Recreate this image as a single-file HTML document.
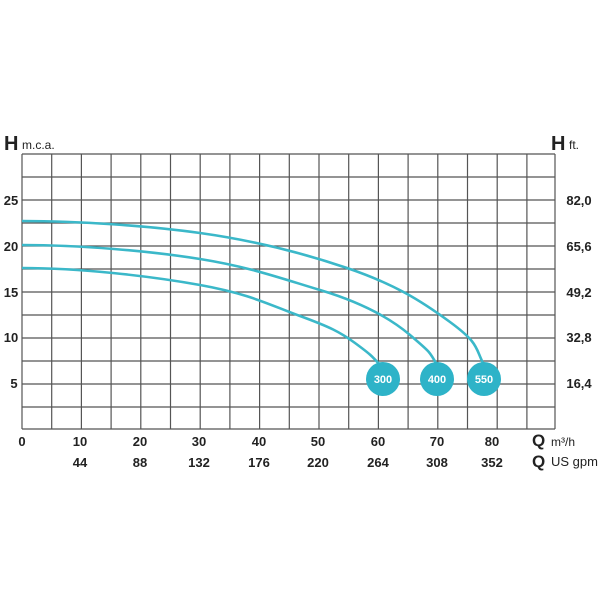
<!DOCTYPE html>
<html><head><style>
body{margin:0;background:#fff;}
svg text{font-family:"Liberation Sans",sans-serif;}
</style></head><body>
<svg width="603" height="603" xmlns="http://www.w3.org/2000/svg">
<g stroke="#555" stroke-width="1.2" fill="none">
<path d="M22,154V429M51.7,154V429M81.4,154V429M111.1,154V429M140.8,154V429M170.5,154V429M200.2,154V429M229.9,154V429M259.6,154V429M289.3,154V429M319,154V429M348.7,154V429M378.4,154V429M408.1,154V429M437.8,154V429M467.5,154V429M497.2,154V429M526.9,154V429M555,154V429"/>
<path d="M22,154H555M22,177H555M22,200H555M22,223H555M22,246H555M22,269H555M22,292H555M22,315H555M22,338H555M22,361H555M22,384H555M22,407H555M22,429H555"/>
</g>
<g stroke="#3bb8c9" stroke-width="2.6" fill="none" stroke-linejoin="round">
<path d="M22,221 C80,221 150,226 200,233 S300,252 347,268 S420,300 450,322 S475,348 484,365"/>
<path d="M22,245 C80,245 150,251 200,259 S280,278 320,290 S390,318 410,335 S430,352 437,365"/>
<path d="M22,268 C80,268 150,276 200,285 S270,305 300,316 S340,332 355,343 S372,356 380,365"/>
</g>
<g fill="#2eb3c8">
<circle cx="383" cy="379" r="17"/><circle cx="437" cy="379" r="17"/><circle cx="484" cy="379" r="17"/>
</g>
<g fill="#fff" font-size="11" font-weight="bold" text-anchor="middle">
<text x="383" y="383">300</text><text x="437" y="383">400</text><text x="484" y="383">550</text>
</g>
<g font-size="13" font-weight="bold" fill="#222">
<text x="4" y="150" font-size="20">H</text><text x="22" y="149" font-size="12" font-weight="normal">m.c.a.</text>
<text x="551" y="150" font-size="20">H</text><text x="569" y="149" font-size="12" font-weight="normal">ft.</text>
<g text-anchor="middle">
<text x="11" y="205">25</text><text x="11" y="251">20</text><text x="11" y="297">15</text><text x="11" y="342">10</text><text x="14" y="388">5</text>
<text x="579" y="205">82,0</text><text x="579" y="251">65,6</text><text x="579" y="297">49,2</text><text x="579" y="342">32,8</text><text x="579" y="388">16,4</text>
<text x="22" y="446">0</text><text x="80" y="446">10</text><text x="140" y="446">20</text><text x="199" y="446">30</text><text x="259" y="446">40</text><text x="318" y="446">50</text><text x="378" y="446">60</text><text x="437" y="446">70</text><text x="492" y="446">80</text>
<text x="80" y="467">44</text><text x="140" y="467">88</text><text x="199" y="467">132</text><text x="259" y="467">176</text><text x="318" y="467">220</text><text x="378" y="467">264</text><text x="437" y="467">308</text><text x="492" y="467">352</text>
</g>
<text x="532" y="446" font-size="17">Q</text><text x="551" y="446" font-size="12" font-weight="normal">m³/h</text>
<text x="532" y="467" font-size="17">Q</text><text x="551" y="466" font-size="13" font-weight="normal">US gpm</text>
</g>
</svg>
</body></html>
